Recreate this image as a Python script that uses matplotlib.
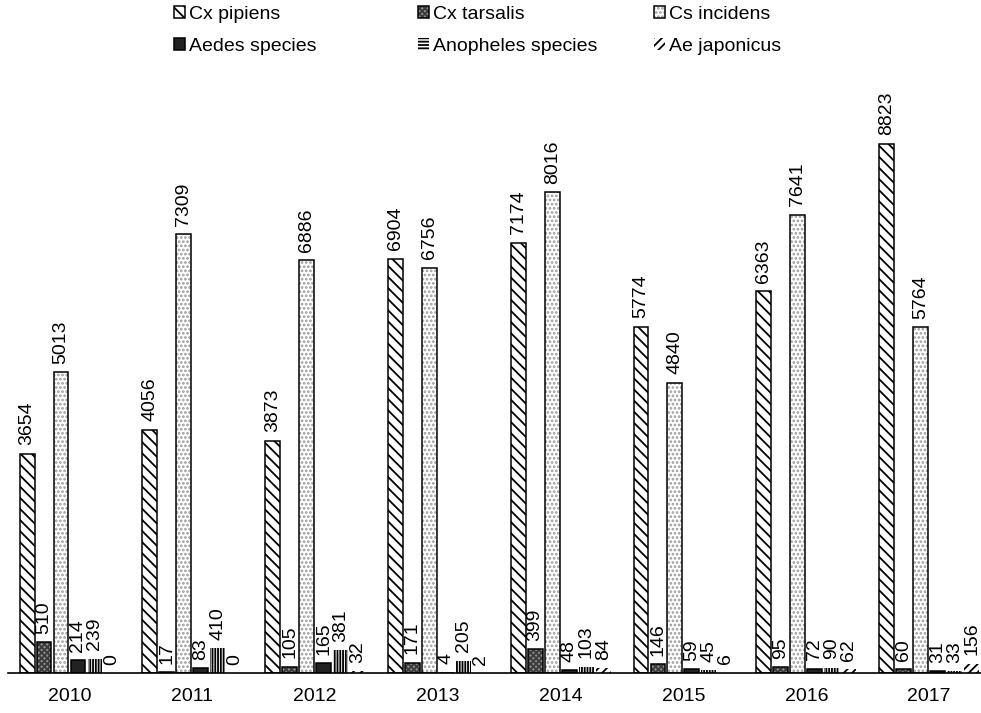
import matplotlib
matplotlib.use("Agg")
import matplotlib.pyplot as plt
from matplotlib.patches import Rectangle
import numpy as np

plt.rcParams["font.family"] = ["Liberation Sans", "DejaVu Sans"]
plt.rcParams["hatch.linewidth"] = 1.3

years = ["2010", "2011", "2012", "2013", "2014", "2015", "2016", "2017"]
species = ["Cx pipiens", "Cx tarsalis", "Cs incidens", "Aedes species", "Anopheles species", "Ae japonicus"]

cx_pipiens = [3654, 4056, 3873, 6904, 7174, 5774, 6363, 8823]
cx_tarsalis = [510, 17, 105, 171, 399, 146, 95, 60]
cs_incidens = [5013, 7309, 6886, 6756, 8016, 4840, 7641, 5764]
aedes_species = [214, 83, 165, 4, 48, 59, 72, 31]
anopheles_species = [239, 410, 381, 205, 103, 45, 90, 33]
ae_japonicus = [0, 0, 32, 2, 84, 6, 62, 156]

series = [cx_pipiens, cx_tarsalis, cs_incidens, aedes_species, anopheles_species, ae_japonicus]

# (face, hatch, hatch colour, outlined)
styles = [
    ("white", "\\\\\\", "black", True),
    ("#8c8c8c", "xxxxxx", "#3a3a3a", True),
    ("white", "....", "#9a9a9a", True),
    ("#222222", "", "#222222", True),
    ("none", "||||||", "black", False),
    ("none", "////", "black", False),
]

fig = plt.figure(figsize=(9.81, 7.13), dpi=100)
ax = fig.add_axes([0.00826, 0.0561, 1.0014, 0.8415])

x = np.arange(len(years))
pitch = 0.1384
width = 0.122
handles = []
for i, (vals, (face, hatch, hcol, outlined)) in enumerate(zip(series, styles)):
    pos = x + (i - 2.5) * pitch
    fill = ax.bar(pos, vals, width, color=face, hatch=hatch, edgecolor=hcol, linewidth=0)
    if outlined:
        outline = ax.bar(pos, vals, width, fill=False, edgecolor="black", linewidth=1.1)
        handles.append((fill, outline))
    else:
        outline = fill
        handles.append(fill)
    ax.bar_label(outline, labels=[str(v) for v in vals], rotation=90, padding=6, fontsize=14)

# legend marker for Anopheles uses horizontal lines
handles[4] = Rectangle((0, 0), 1, 1, facecolor="none", edgecolor="black", hatch="-----", linewidth=0)

ax.set_xlim(-0.5, 7.5)
ax.set_ylim(0, 10000)
ax.set_xticks(x)
ax.set_xticklabels(years, fontsize=14)
ax.tick_params(axis="x", length=0, pad=11)
ax.set_yticks([])
for side in ["top", "right", "left"]:
    ax.spines[side].set_visible(False)
ax.spines["bottom"].set_linewidth(1.2)

# legend: three columns placed at fixed spots
col_x = [174, 418, 654]
for c in range(3):
    ids = [c, c + 3]
    fig.legend([handles[k] for k in ids], [species[k] for k in ids],
               loc="upper left", bbox_to_anchor=(col_x[c] / 981, 1 - 6 / 713),
               frameon=False, fontsize=14, ncol=1, borderpad=0, borderaxespad=0,
               handlelength=0.55, handleheight=0.55, handletextpad=0.2,
               labelspacing=0.76)

fig.savefig("out.png", dpi=100)
